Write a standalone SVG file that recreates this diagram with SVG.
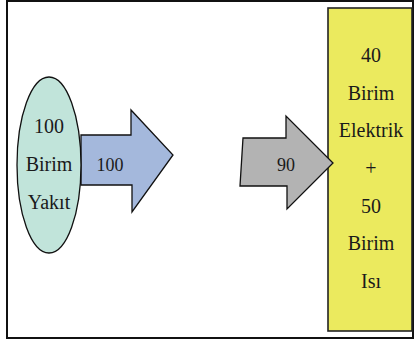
<svg xmlns="http://www.w3.org/2000/svg" width="414" height="339" viewBox="0 0 414 339">
  <style>
    .txt { font-family: "Liberation Serif", "Times New Roman", serif; font-size: 20px; fill: #1a1a1a; text-anchor: middle; }
    .lbl { font-family: "Liberation Serif", "Times New Roman", serif; font-size: 18px; fill: #1a1a1a; text-anchor: middle; }
    .edge { stroke: #111; stroke-width: 1.3; stroke-linejoin: miter; }
  </style>
  <rect x="0" y="0" width="414" height="339" fill="#ffffff"/>
  <!-- outer frame -->
  <rect x="7" y="1" width="406" height="337" fill="none" stroke="#111" stroke-width="2"/>

  <!-- output box -->
  <g id="output">
    <rect x="328" y="8" width="84" height="323" fill="#ebea5e" stroke="#222" stroke-width="1.6"/>
    <text class="txt" x="371" y="62">40</text>
    <text class="txt" x="371" y="100">Birim</text>
    <text class="txt" x="371" y="137">Elektrik</text>
    <text class="txt" x="371" y="175">+</text>
    <text class="txt" x="371" y="213">50</text>
    <text class="txt" x="371" y="250">Birim</text>
    <text class="txt" x="371" y="288">Isı</text>
  </g>

  <g id="connectors">
    <!-- input arrow -->
    <g id="arrow-in">
      <path class="edge" d="M81,135 H131 V110 L173,155 L132,212 V185 H81 Z" fill="#a4b8dc"/>
      <text class="lbl" x="110" y="171">100</text>
    </g>
    <!-- output arrow -->
    <g id="arrow-out">
      <path class="edge" d="M243,138 H286 V116 L333,163 L287,209 V186 H240 Z" fill="#b3b3b3"/>
      <text class="lbl" x="286" y="171">90</text>
    </g>
  </g>

  <!-- fuel source -->
  <g id="fuel">
    <ellipse cx="49" cy="165" rx="32" ry="88" fill="#c1e4da" stroke="#111" stroke-width="1.3"/>
    <text class="txt" x="49" y="133">100</text>
    <text class="txt" x="49" y="171">Birim</text>
    <text class="txt" x="49" y="209">Yakıt</text>
  </g>
</svg>
